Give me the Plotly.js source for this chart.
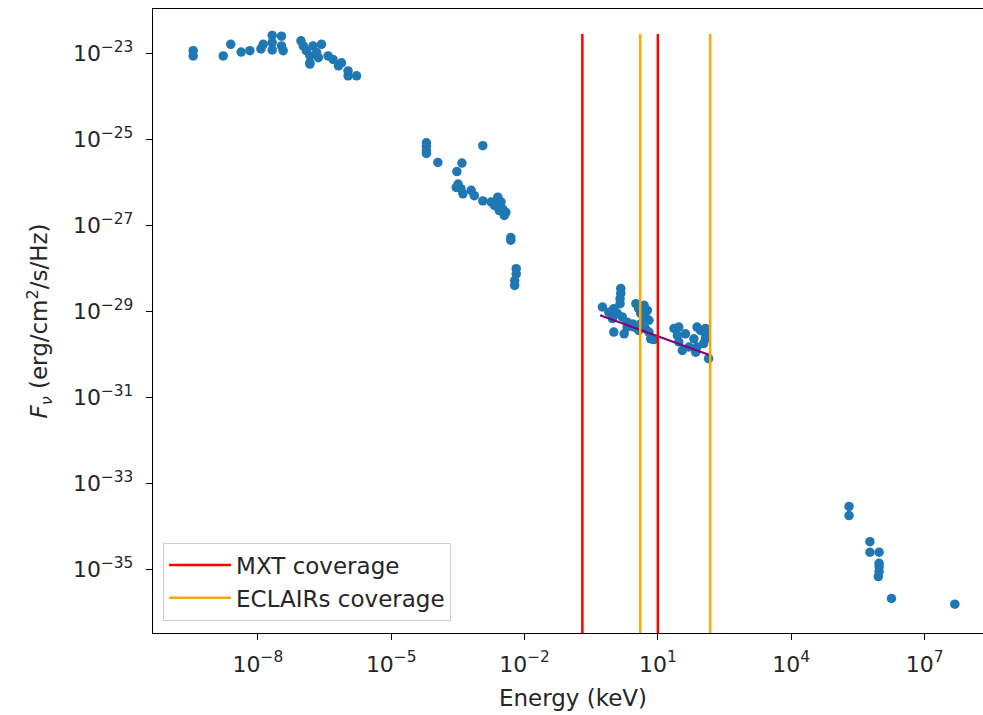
<!DOCTYPE html>
<html><head><meta charset="utf-8">
<script src="https://cdn.plot.ly/plotly-3.0.1.min.js"></script>
<style>html,body{margin:0;padding:0;background:#fff;overflow:hidden;width:983px;height:715px}</style>
</head><body><div id="chart" style="width:1000px;height:715px"></div>
<script>
// Radio / mm band
const radioEnergy = [3.5e-10,3.5e-10,1.66e-9,2.45e-9,4.2e-9,6.6e-9,1.17e-8,1.32e-8,2.1e-8,2.1e-8,2.1e-8,3.4e-8,3.4e-8,3.7e-8,9.3e-8,1.05e-7,1.23e-7,1.48e-7,1.48e-7,1.74e-7,2.1e-7,2.7e-7,2.3e-7,1.48e-7,3.8e-7,4.9e-7,6.5e-7,7.6e-7,1.07e-6,1.07e-6,1.66e-6];
const radioFlux   = [1.15e-23,8.7e-24,8.7e-24,1.62e-23,1.07e-23,1.15e-23,1.26e-23,1.62e-23,2.6e-23,1.78e-23,1.2e-23,2.5e-23,1.48e-23,1.15e-23,1.95e-23,1.48e-23,1.15e-23,8.7e-24,6.0e-24,1.48e-23,1.05e-23,1.62e-23,7.9e-24,5.6e-24,8.7e-24,7.2e-24,5.1e-24,6.0e-24,3.9e-24,3.0e-24,3.0e-24];
// Optical / UV band
const opticalEnergy = [6.2e-5,6.2e-5,6.2e-5,6.2e-5,1.12e-4,1.15e-3,3.9e-4,3.0e-4,3.2e-4,3.7e-4,2.9e-4,4.1e-4,6.3e-4,7.4e-4,1.15e-3,1.78e-3,2.1e-3,2.5e-3,2.95e-3,3.2e-3,2.7e-3,3.8e-3,3.5e-3,4.9e-3,4.9e-3,6.5e-3,6.5e-3,6.0e-3,6.0e-3];
const opticalFlux   = [8.3e-26,6.8e-26,5.4e-26,4.7e-26,2.9e-26,7.1e-26,2.8e-26,1.78e-26,9.1e-27,7.1e-27,7.6e-27,5.4e-27,6.5e-27,4.9e-27,3.7e-27,3.5e-27,2.9e-27,4.5e-27,3.5e-27,2.4e-27,2.2e-27,2.0e-27,1.7e-27,5.2e-28,4.5e-28,9.8e-29,7.4e-29,5.2e-29,4.0e-29];
// X-ray band
const xrayEnergy = [0.565,0.79,1.46,1.46,1.41,1.41,1.02,1.23,0.95,1.58,2.04,1.02,1.74,2.04,2.7,3.2,3.7,4.1,4.9,5.8,5.2,6.3,4.1,5.2,3.7,6.3,6.9,8.1,2.9,23,29.5,27.5,41.7,29.5,35.5,50,64.6,76,91,117,117,117,107,76,71,138];
const xrayFlux   = [1.26e-29,9.5e-30,3.4e-29,2.6e-29,1.95e-29,1.51e-29,1.15e-29,8.9e-30,6.8e-30,7.4e-30,5.6e-30,3.3e-30,3.0e-30,4.3e-30,5.1e-30,1.51e-29,1.15e-29,8.9e-30,1.38e-29,1.05e-29,7.4e-30,6.2e-30,5.1e-30,4.0e-30,3.6e-30,3.3e-30,2.3e-30,2.2e-30,4.3e-30,4.0e-30,4.3e-30,2.75e-30,3.0e-30,1.95e-30,1.23e-30,1.48e-30,2.3e-30,4.3e-30,3.6e-30,4.0e-30,3.0e-30,2.3e-30,1.78e-30,1.48e-30,1.12e-30,7.9e-31];
// Gamma-ray band
const gammaEnergy = [2.0e5,2.0e5,5.9e5,5.9e5,9.5e5,9.5e5,9.5e5,9.5e5,9.1e5,1.8e6,4.8e7];
const gammaFlux   = [2.9e-34,1.78e-34,4.4e-35,2.5e-35,2.5e-35,1.38e-35,1.15e-35,8.9e-36,6.8e-36,2.1e-36,1.55e-36];
// Power-law model across the X-ray band
const modelEnergy = [0.5, 150];
const modelFlux   = [8.1e-30, 9.5e-31];
// Instrument coverage (keV)
const mxtEnergies = [0.2, 10];
const eclairsEnergies = [4, 150];
const coverageFlux = [1e-38, 2.8e-23];
// Ticks
const xTickVals = [1e-8, 1e-5, 1e-2, 1e1, 1e4, 1e7];
const xTickText = ['10<sup>−8</sup>','10<sup>−5</sup>','10<sup>−2</sup>','10<sup>1</sup>','10<sup>4</sup>','10<sup>7</sup>'];
const yTickVals = [1e-35, 1e-33, 1e-31, 1e-29, 1e-27, 1e-25, 1e-23];
const yTickText = ['10<sup>−35</sup>','10<sup>−33</sup>','10<sup>−31</sup>','10<sup>−29</sup>','10<sup>−27</sup>','10<sup>−25</sup>','10<sup>−23</sup>'];

const allE = radioEnergy.concat(opticalEnergy, xrayEnergy, gammaEnergy);
const allF = radioFlux.concat(opticalFlux, xrayFlux, gammaFlux);

function vlines(es){
  const x=[], y=[];
  es.forEach(e=>{ x.push(e,e,null); y.push(coverageFlux[0], coverageFlux[1], null); });
  return {x, y};
}
const mxt = vlines(mxtEnergies), ecl = vlines(eclairsEnergies);

const FONT = 'DejaVu Sans, Verdana, sans-serif';
const TXT = '#262626';
const data = [
  {x: allE, y: allF, type:'scatter', mode:'markers', showlegend:false,
   marker:{color:'#1f77b4', size:9.5, line:{width:0}}},
  {x: modelEnergy, y: modelFlux, type:'scatter', mode:'lines', showlegend:false,
   line:{color:'#800080', width:2}},
  {x: mxt.x, y: mxt.y, type:'scatter', mode:'lines', name:'MXT coverage',
   line:{color:'#ff0000', width:2.5}},
  {x: ecl.x, y: ecl.y, type:'scatter', mode:'lines', name:'ECLAIRs coverage',
   line:{color:'#ffa500', width:2.5}}
];

const axisCommon = {
  showline:true, mirror:true, linecolor:'#000', linewidth:1.2,
  ticks:'outside', ticklen:6, tickwidth:1.2, tickcolor:'#000',
  showgrid:false, zeroline:false, tickmode:'array',
  tickfont:{family:FONT, size:22, color:TXT}
};

const layout = {
  width:1000, height:715,
  margin:{l:153, r:7, t:9, b:82},
  paper_bgcolor:'#fff', plot_bgcolor:'#fff',
  font:{family:FONT, color:TXT},
  xaxis: Object.assign({}, axisCommon, {
    type:'log', range:[-10.36, 8.54],
    tickvals:xTickVals, ticktext:xTickText, ticklabelstandoff:5,
    title:{text:'Energy (keV)', font:{family:FONT, size:23, color:TXT}, standoff:14}
  }),
  yaxis: Object.assign({}, axisCommon, {
    type:'log', range:[-36.48, -21.97],
    tickvals:yTickVals, ticktext:yTickText, ticklabelstandoff:8,
    title:{text:'<i>F</i><sub><i>ν</i></sub> (erg/cm<sup>2</sup>/s/Hz)', font:{family:FONT, size:23, color:TXT}, standoff:18}
  }),
  legend:{x:0.012, y:0.02, xanchor:'left', yanchor:'bottom',
    bgcolor:'rgba(255,255,255,0.8)', bordercolor:'#cccccc', borderwidth:1,
    itemwidth:62,
    font:{family:FONT, size:23, color:TXT}}
};

Plotly.newPlot('chart', data, layout, {displayModeBar:false, staticPlot:true});
</script>
</body></html>
